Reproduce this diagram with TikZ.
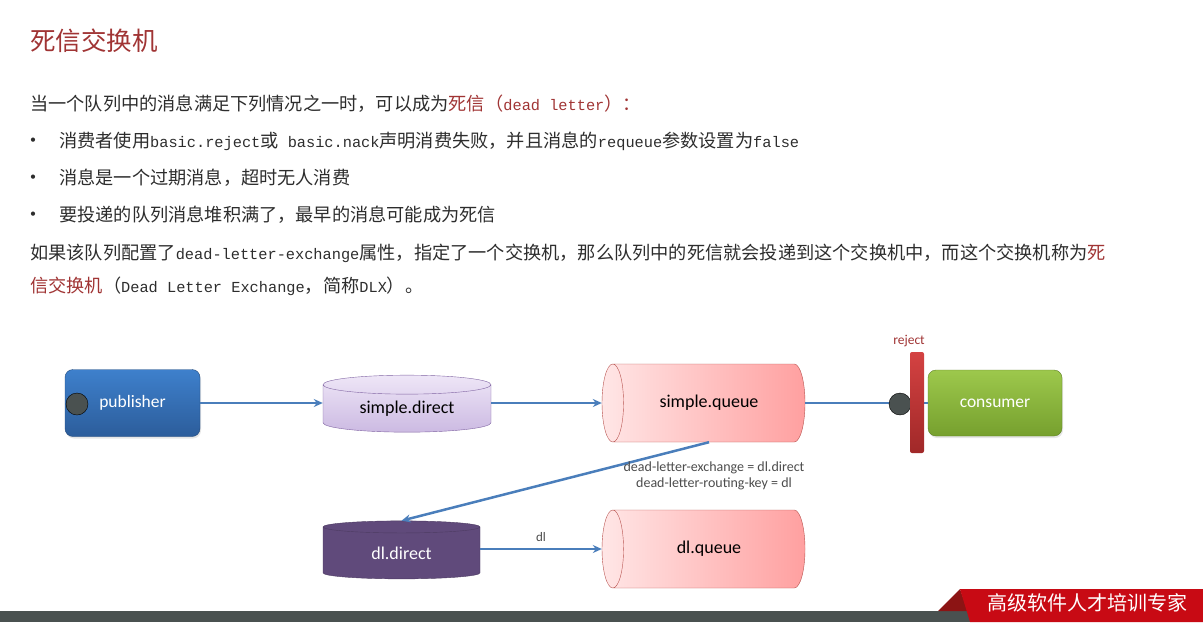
\documentclass[tikz,border=0pt]{standalone}
\usepackage{fontspec}
\setmainfont{Carlito}
\newfontfamily\cjk{Noto Sans CJK SC}
\newfontfamily\monofont{Liberation Mono}
\usetikzlibrary{positioning,arrows.meta,shapes.geometric,shadows}
\definecolor{deadred}{RGB}{160,52,52}
\definecolor{bodygray}{RGB}{45,45,45}
\definecolor{linkblue}{RGB}{74,126,187}
\definecolor{pubtop}{RGB}{62,128,204}
\definecolor{pubbot}{RGB}{44,93,155}
\definecolor{dirtop}{RGB}{238,230,247}
\definecolor{dirbot}{RGB}{204,186,226}
\definecolor{dirline}{RGB}{128,100,162}
\definecolor{qleft}{RGB}{255,230,230}
\definecolor{qright}{RGB}{255,160,160}
\definecolor{qline}{RGB}{184,84,80}
\definecolor{dldark}{RGB}{96,74,123}
\definecolor{contop}{RGB}{157,200,76}
\definecolor{conbot}{RGB}{118,160,46}
\definecolor{dotgray}{RGB}{74,81,80}
\definecolor{bartop}{RGB}{212,66,66}
\definecolor{barbot}{RGB}{160,40,40}
\definecolor{footred}{RGB}{200,10,20}
\definecolor{footdark}{RGB}{140,20,20}

\newcommand{\lat}[1]{{\monofont\fontsize{15.3}{18}\selectfont #1}}

\begin{document}
\begin{tikzpicture}[x=1pt,y=-1pt,
    bodytext/.style={anchor=west,inner sep=0,text=bodygray,
        font=\cjk\fontsize{18.2}{22}\selectfont},
    pubbox/.style={rounded corners=8pt,minimum width=135pt,minimum height=67pt,
        top color=pubtop,bottom color=pubbot,draw=pubbot!80!black,text=white,
        drop shadow={opacity=0.2,shadow xshift=1pt,shadow yshift=-2pt},
        font=\fontsize{17.5}{20}\selectfont},
    conbox/.style={pubbox,top color=contop,bottom color=conbot,
        draw=conbot!80!black,minimum width=134pt,minimum height=66pt},
    exbox/.style={cylinder,shape border rotate=90,aspect=0.2,inner sep=0,
        minimum width=168pt,minimum height=57pt,top color=dirtop,
        bottom color=dirbot,draw=dirline,font=\fontsize{18}{20}\selectfont},
    qbox/.style={cylinder,shape border rotate=180,aspect=1.4,inner sep=0,
        minimum width=78pt,minimum height=203pt,left color=qleft,
        right color=qright,draw=qline,font=\fontsize{18}{20}\selectfont},
    dotnode/.style={circle,fill=dotgray,draw=black,inner sep=0,minimum size=22pt},
    link/.style={draw=linkblue,line width=2.5pt},
    arrowlink/.style={link,-{Stealth[length=9pt,width=8pt]}},
    labeltext/.style={text=black!70,inner sep=1pt,font=\fontsize{14}{16}\selectfont}]
\useasboundingbox (0,0) rectangle (1203,622);

% heading and text
\node[bodytext,text=deadred,font=\cjk\fontsize{25.5}{30}\selectfont] (title) at (30,41) {死信交换机};
\node[bodytext] (intro) at (30,104) {当一个队列中的消息满足下列情况之一时，可以成为\textcolor{deadred}{死信（\lat{dead letter}）：}};
\foreach \y in {141,178,215}{
    \node[anchor=center,inner sep=0,text=bodygray,font=\fontsize{12}{14}\selectfont] (dot\y) at (33,\y) {\textbullet};
}
\node[bodytext] (case1) at (59,141) {消费者使用\lat{basic.reject}或\lat{ basic.nack}声明消费失败，并且消息的\lat{requeue}参数设置为\lat{false}};
\node[bodytext] (case2) at (59,178) {消息是一个过期消息，超时无人消费};
\node[bodytext] (case3) at (59,215) {要投递的队列消息堆积满了，最早的消息可能成为死信};
\node[bodytext] (dlx1) at (30,253) {如果该队列配置了\lat{dead-letter-exchange}属性，指定了一个交换机，那么队列中的死信就会投递到这个交换机中，而这个交换机称为\textcolor{deadred}{死}};
\node[bodytext] (dlx2) at (30,286) {\textcolor{deadred}{信交换机}（\lat{Dead Letter Exchange}，简称\lat{DLX}）。};

% diagram
\node[pubbox] (pub) at (132.5,403) {publisher};
\node[dotnode] (pubdot) at (77,404) {};
\node[exbox] (sdir) at (407,408.5) {simple.direct};
\node[qbox] (sq) at (709,403) {simple.queue};
\node[conbox] (cons) at (995,403) {consumer};
\node[exbox,top color=dldark,bottom color=dldark,draw=dldark!80!black,text=white,
    minimum width=157pt,minimum height=58pt] (dld) at (401.5,553) {dl.direct};
\node[qbox] (dlq) at (709,549) {dl.queue};

\draw[arrowlink] (pub.east) -- (sdir.west |- pub.east);
\draw[arrowlink] (sdir.east |- pub.east) -- (sq.west |- pub.east);
\draw[link] (sq) -- (cons);
\draw[arrowlink] (sq.south) -- (dld.north);
\draw[arrowlink] (dld.east |- dlq.west) -- node[labeltext,font=\fontsize{13}{15}\selectfont,above=5pt] (dlkey) {dl} (dlq.west);
\node[labeltext,align=center] (dlxargs) at (714,476) {dead-letter-exchange = dl.direct\\dead-letter-routing-key = dl};

% reject bar
\node[dotnode] (condot) at (900,404) {};
\node[rounded corners=2pt,minimum width=14pt,minimum height=101pt,inner sep=0,
    top color=bartop,bottom color=barbot] (bar) at (917,402.5) {};
\node[labeltext,text=deadred,font=\fontsize{13.5}{15}\selectfont] (rej) at (909,341) {reject};

% footer
\fill[dotgray] (0,611) rectangle (1203,622);
\fill[footdark] (938,611) -- (960,589) -- (968,611) -- cycle;
\fill[footred] (960,589) -- (1203,589) -- (1203,622) -- (970,622) -- cycle;
\node[text=white,inner sep=0,font=\cjk\fontsize{20}{24}\selectfont] (slogan) at (1087,603) {高级软件人才培训专家};
\end{tikzpicture}
\end{document}
